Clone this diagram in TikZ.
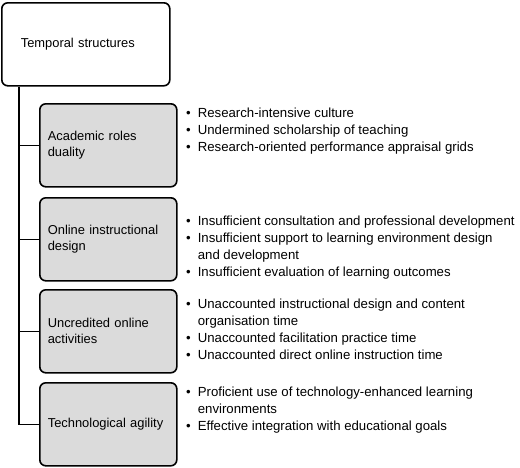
\documentclass[tikz,border=0pt]{standalone}
\usepackage{fontspec}
\setmainfont{Liberation Sans}
\usetikzlibrary{positioning}
\tikzset{
  themebox/.style={draw, line width=1.6pt, rounded corners=6pt, fill=gray!28, align=left,
    text width=121pt, inner xsep=8pt, minimum height=83pt, anchor=north west,
    font=\fontsize{12.9}{16}\selectfont},
  toptheme/.style={themebox, fill=white, text width=130pt, inner xsep=19pt},
  bulletlist/.style={anchor=north west, inner sep=0pt, align=left,
    font=\fontsize{13.2}{17}\selectfont},
  branch/.style={line width=1.6pt}
}
\newcommand{\bl}{\textbullet &}
\begin{document}
\begin{tikzpicture}[x=1pt,y=-1pt]
\useasboundingbox (0,0) rectangle (520,467);
\begin{scope}[local bounding box=boxes]
  \node[toptheme] (top) at (1,2) {Temporal structures};
  \node[themebox] (roles) at (39,103) {Academic roles\\duality};
  \node[themebox] (design) at (39,197) {Online instructional\\design};
  \node[themebox] (uncred) at (39,289) {Uncredited online\\activities};
  \node[themebox] (agility) at (39,382) {Technological agility};
\end{scope}
% trunk and branches
\coordinate (trunk) at (19,0);
\draw[branch] (trunk |- top.south) |- (agility.west);
\draw[branch] (trunk |- roles.west) -- (roles.west);
\draw[branch] (trunk |- design.west) -- (design.west);
\draw[branch] (trunk |- uncred.west) -- (uncred.west);
% bullet lists
\begin{scope}[every node/.style={bulletlist}]
  \node (rolesl) at (186,105) {\begin{tabular}{@{}l@{\hspace{7pt}}l@{}}
    \bl Research-intensive culture\\
    \bl Undermined scholarship of teaching\\
    \bl Research-oriented performance appraisal grids
  \end{tabular}};
  \node (designl) at (186,213) {\begin{tabular}{@{}l@{\hspace{7pt}}l@{}}
    \bl Insufficient consultation and professional development\\
    \bl Insufficient support to learning environment design\\
    & and development\\
    \bl Insufficient evaluation of learning outcomes
  \end{tabular}};
  \node (uncredl) at (186,296) {\begin{tabular}{@{}l@{\hspace{7pt}}l@{}}
    \bl Unaccounted instructional design and content\\
    & organisation time\\
    \bl Unaccounted facilitation practice time\\
    \bl Unaccounted direct online instruction time
  \end{tabular}};
  \node (agilityl) at (186,384) {\begin{tabular}{@{}l@{\hspace{7pt}}l@{}}
    \bl Proficient use of technology-enhanced learning\\
    & environments\\
    \bl Effective integration with educational goals
  \end{tabular}};
\end{scope}
\end{tikzpicture}
\end{document}
